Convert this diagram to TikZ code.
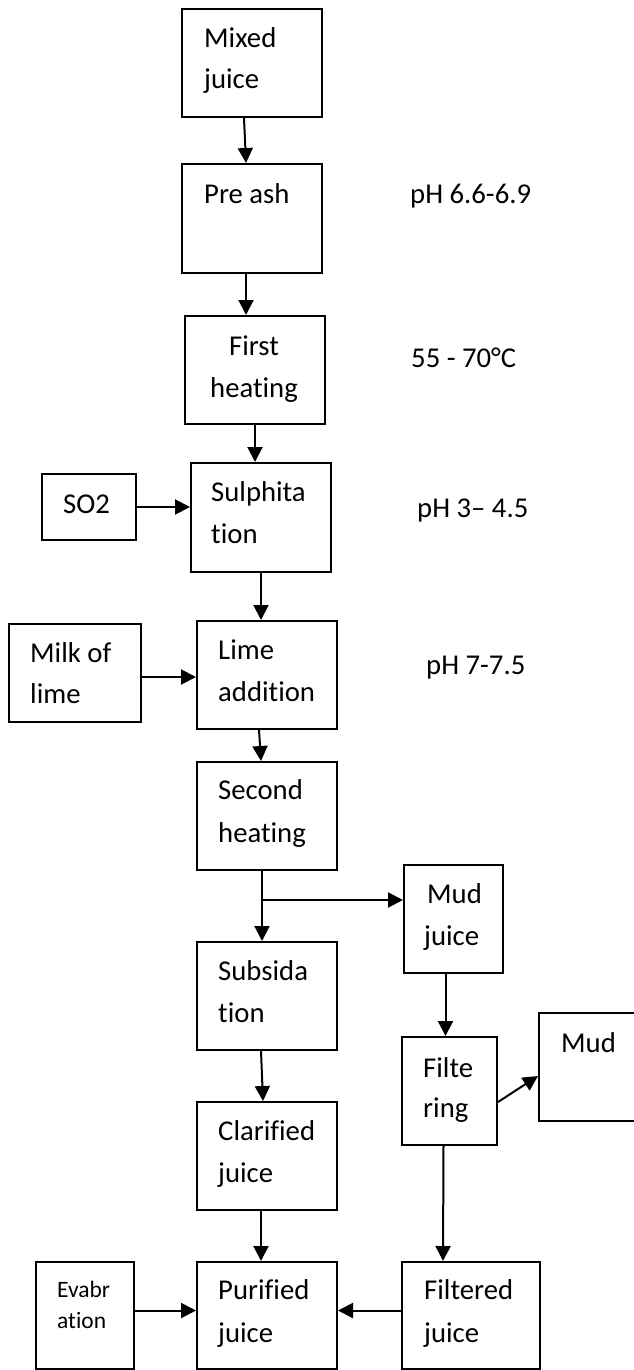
\documentclass[tikz,border=0pt]{standalone}
\usepackage{fontspec}
\setmainfont{Carlito}[Ligatures=NoCommon]
\usetikzlibrary{arrows.meta}
\tikzset{
  box/.style={draw, line width=2pt, rectangle, inner sep=0pt},
  lbl/.style={anchor=base west, inner sep=0pt, font=\fontsize{28.7}{34}\selectfont},
  clbl/.style={anchor=base, inner sep=0pt, font=\fontsize{28.7}{34}\selectfont},
  slbl/.style={anchor=base west, inner sep=0pt, font=\fontsize{23.5}{28}\selectfont},
  arr/.style={-{Triangle[length=15pt,width=15pt]}, line width=2pt},
  ln/.style={line width=2pt}
}
\begin{document}
\begin{tikzpicture}[x=1pt,y=-1pt]
\useasboundingbox (0,0) rectangle (633,1370);
% boxes
\node[box, minimum width=140pt, minimum height=108pt] (mj) at (252,63) {};
\node[box, minimum width=140pt, minimum height=109pt] (pa) at (252,218.5) {};
\node[box, minimum width=140pt, minimum height=108pt] (fh) at (255,370) {};
\node[box, minimum width=140pt, minimum height=109pt] (su) at (261,517.5) {};
\node[box, minimum width=94pt, minimum height=66pt] (so) at (89,507) {};
\node[box, minimum width=140pt, minimum height=108pt] (la) at (267,675) {};
\node[box, minimum width=132pt, minimum height=98pt] (ml) at (75,673) {};
\node[box, minimum width=140pt, minimum height=108pt] (sh) at (267,816) {};
\node[box, minimum width=99pt, minimum height=108pt] (mu) at (453.5,919) {};
\node[box, minimum width=140pt, minimum height=108pt] (sb) at (267,996) {};
\node[box, minimum width=95pt, minimum height=108pt] (fi) at (449.5,1091) {};
\node[box, minimum width=103pt, minimum height=108pt] (md) at (590.5,1067) {};
\node[box, minimum width=140pt, minimum height=108pt] (cj) at (267,1156) {};
\node[box, minimum width=140pt, minimum height=107pt] (pj) at (267,1315.5) {};
\node[box, minimum width=98pt, minimum height=107pt] (ev) at (85,1315.5) {};
\node[box, minimum width=138pt, minimum height=107pt] (fj) at (471,1315.5) {};
% texts
\node[lbl] (tmj1) at (204,48) {Mixed};
\node[lbl] (tmj2) at (204,89) {juice};
\node[lbl] (tpa) at (204,203) {Pre ash};
\node[lbl] (tph1) at (410,203) {pH 6.6-6.9};
\node[clbl] (tfh1) at (254,355) {First};
\node[clbl] (tfh2) at (254,397) {heating};
\node[lbl] (ttemp) at (411,367) {55 - 70°C};
\node[lbl] (tsu1) at (211,501) {Sulphita};
\node[lbl] (tsu2) at (211,543) {tion};
\node[lbl] (tso) at (63,513) {SO2};
\node[lbl] (tph2) at (417,517) {pH 3– 4.5};
\node[lbl] (tla1) at (218,659) {Lime};
\node[lbl] (tla2) at (218,701) {addition};
\node[lbl] (tml1) at (30,662) {Milk of};
\node[lbl] (tml2) at (30,703) {lime};
\node[lbl] (tph3) at (426,674) {pH 7-7.5};
\node[lbl] (tsh1) at (218,799) {Second};
\node[lbl] (tsh2) at (218,842) {heating};
\node[lbl] (tmu1) at (427,903) {Mud};
\node[lbl] (tmu2) at (424,945) {juice};
\node[lbl] (tsb1) at (218,980) {Subsida};
\node[lbl] (tsb2) at (218,1022) {tion};
\node[lbl] (tfi1) at (423,1077) {Filte};
\node[lbl] (tfi2) at (423,1117) {ring};
\node[lbl] (tmd) at (561,1052) {Mud};
\node[lbl] (tcj1) at (218,1140) {Clarified};
\node[lbl] (tcj2) at (218,1182) {juice};
\node[lbl] (tpj1) at (218,1299) {Purified};
\node[lbl] (tpj2) at (218,1342) {juice};
\node[lbl] (tfj1) at (424,1299) {Filtered};
\node[lbl] (tfj2) at (424,1342) {juice};
\node[slbl] (tev1) at (57,1297) {Evabr};
\node[slbl] (tev2) at (57,1328) {ation};
% connectors
\draw[arr] ([xshift=-8pt]mj.south) -- ([xshift=-6pt]pa.north);
\draw[arr] ([xshift=-6pt]pa.south) -- ([xshift=-9pt]fh.north);
\draw[arr] (fh.south) -- ([xshift=-6pt]su.north);
\draw[arr] (so.east) -- (so.east -| su.west);
\draw[arr] (su.south) -- ([xshift=-6pt]la.north);
\draw[arr] ([yshift=-4pt]ml.east) -- ([yshift=-4pt]ml.east -| la.west);
\draw[arr] ([xshift=-8pt]la.south) -- ([xshift=-6pt]sh.north);
\draw[arr] ([xshift=-5pt]sh.south) -- ([xshift=-5pt]sb.north);
\coordinate (br) at ([xshift=-5pt,yshift=-29pt]sh.south);
\draw[arr] (br) -- (br -| mu.west);
\draw[arr] ([xshift=-8pt]mu.south) -- ([xshift=-4pt]fi.north);
\draw[arr] ([yshift=-11pt]fi.east) -- ([yshift=-9pt]md.west);
\draw[arr] ([xshift=-6pt]sb.south) -- ([xshift=-4pt]cj.north);
\draw[arr] ([xshift=-6pt]cj.south) -- ([xshift=-6pt]pj.north);
\draw[arr] ([xshift=-6pt]fi.south) -- ([xshift=-28pt]fj.north);
\draw[arr] ([yshift=5pt]fj.west) -- ([yshift=5pt]fj.west -| pj.east);
\draw[arr] ([yshift=5pt]ev.east) -- ([yshift=5pt]ev.east -| pj.west);
\end{tikzpicture}
\end{document}
